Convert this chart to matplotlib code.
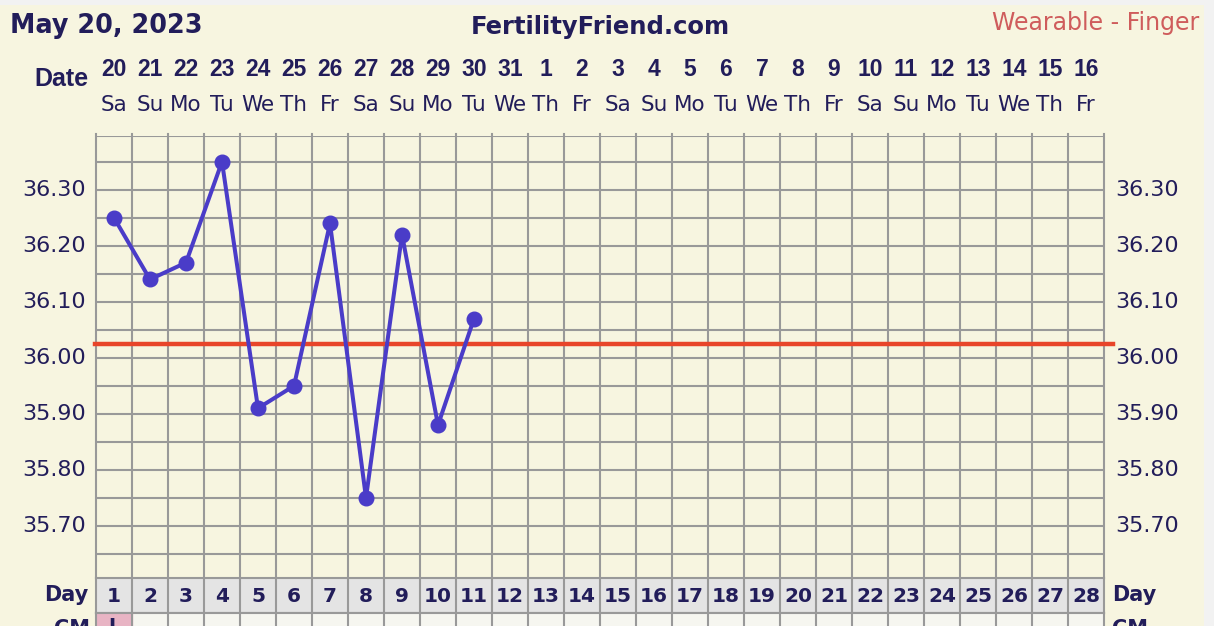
import matplotlib
matplotlib.use("Agg")
from matplotlib import pyplot as plt
from matplotlib.patches import Rectangle
import numpy as np

# chart data
days = np.arange(1, 29)
dates = [20, 21, 22, 23, 24, 25, 26, 27, 28, 29, 30, 31, 1, 2, 3, 4, 5, 6, 7, 8, 9,
         10, 11, 12, 13, 14, 15, 16]
weekdays = ["Sa", "Su", "Mo", "Tu", "We", "Th", "Fr"] * 4
temp_days = [1, 2, 3, 4, 5, 6, 7, 8, 9, 10, 11]
temps = [36.25, 36.14, 36.17, 36.35, 35.91, 35.95, 36.24, 35.75, 36.22, 35.88, 36.07]
coverline = 36.025
ytick_vals = [36.30, 36.20, 36.10, 36.00, 35.90, 35.80, 35.70]
cm_pink_days = [1]

W, H = 1214, 626
navy = "#221d5a"
cream = "#f7f5e0"
gridc = "#999999"
purple = "#4a3cc8"
red = "#e8452a"
narrow = ["Liberation Sans", "DejaVu Sans"]


def fx(x):
    return x / W


def fy(y):
    return 1 - y / H


fig = plt.figure(figsize=(W / 100, H / 100), dpi=100)
fig.patch.set_facecolor("#f2f2f2")
fig.patches.append(Rectangle((0, 0), fx(1204), fy(5), transform=fig.transFigure,
                             facecolor=cream, edgecolor="none", zorder=-10))

# main grid
left, right = 96, 1104
top, bottom = 136, 578
ax = fig.add_axes([fx(left), fy(bottom), fx(right - left), (bottom - top) / H])
ax.set_facecolor(cream)
ax.set_xlim(0.5, 28.5)
ax.set_ylim(35.607, 36.396)
for s in ax.spines.values():
    s.set_visible(False)
ax.set_xticks([])
ax.set_yticks([])

for yv in np.arange(35.65, 36.36, 0.05):
    ax.axhline(yv, color=gridc, lw=1.5, zorder=1)
ax.axhline(36.396, color=gridc, lw=1.5, zorder=1)
for xv in np.arange(0.5, 29, 1):
    ax.axvline(xv, color=gridc, lw=1.5, zorder=1, ymax=1.005, clip_on=False)

ax.plot([0.47, 28.75], [coverline, coverline], color=red, lw=3.2, zorder=3, clip_on=False)
ax.plot(temp_days, temps, color=purple, lw=2.9, marker="o", ms=10.5, zorder=4,
        solid_capstyle="round")

# y labels both sides
for yv in ytick_vals:
    ax.text(-10 / 1008, yv, "%.2f" % yv, ha="right", va="center", fontsize=16, color=navy,
            transform=ax.get_yaxis_transform())
    ax.text(1 + 11 / 1008, yv, "%.2f" % yv, ha="left", va="center", fontsize=16, color=navy,
            transform=ax.get_yaxis_transform())

# Day row
ax_day = fig.add_axes([fx(left), fy(613), fx(right - left), 35 / H])
ax_day.set_facecolor("#e4e4e4")
ax_day.set_xlim(0.5, 28.5)
ax_day.set_ylim(0, 1)
ax_day.set_xticks([])
ax_day.set_yticks([])
for s in ax_day.spines.values():
    s.set_color(gridc)
    s.set_linewidth(1.5)
for xv in np.arange(1.5, 28.5, 1):
    ax_day.axvline(xv, color=gridc, lw=1.5)
for d in days:
    ax_day.text(d, 0.48, str(d), ha="center", va="center", fontsize=14.5,
                fontweight="bold", color=navy)

# CM row (cut off at bottom)
ax_cm = fig.add_axes([fx(left), fy(640), fx(right - left), 27 / H])
ax_cm.set_facecolor("#f6f6f0")
ax_cm.set_xlim(0.5, 28.5)
ax_cm.set_ylim(0, 1)
ax_cm.set_xticks([])
ax_cm.set_yticks([])
for s in ax_cm.spines.values():
    s.set_color(gridc)
    s.set_linewidth(1.5)
for d in cm_pink_days:
    ax_cm.axvspan(d - 0.5, d + 0.5, color="#e8b4c4", zorder=0)
for xv in np.arange(1.5, 28.5, 1):
    ax_cm.axvline(xv, color=gridc, lw=1.5)
ax_cm.text(1, 0.5, "L", ha="center", va="center", fontsize=14, fontweight="bold", color=navy)

# headings
fig.text(fx(10), fy(33), "May 20, 2023", ha="left", va="baseline", fontsize=18.4,
         fontweight="bold", color=navy)
fig.text(fx(600), fy(34), "FertilityFriend.com", ha="center", va="baseline", fontsize=17.5,
         fontweight="bold", color=navy)
fig.text(fx(1199), fy(30), "Wearable - Finger", ha="right", va="baseline", fontsize=17,
         color="#cf5c5c")

fig.text(fx(88), fy(79), "Date", ha="right", va="center", fontsize=18,
         fontweight="bold", color=navy, family=narrow)
for i, d in enumerate(days):
    x = fx(left + 36 * (d - 0.5))
    fig.text(x, fy(70), str(dates[i]), ha="center", va="center", fontsize=16.5,
             fontweight="bold", color=navy, family=narrow)
    fig.text(x, fy(105), weekdays[i], ha="center", va="center", fontsize=15.5, color=navy)

fig.text(fx(88), fy(595), "Day", ha="right", va="center", fontsize=15,
         fontweight="bold", color=navy)
fig.text(fx(1112), fy(595), "Day", ha="left", va="center", fontsize=15,
         fontweight="bold", color=navy)
fig.text(fx(90), fy(619), "CM", ha="right", va="top", fontsize=15,
         fontweight="bold", color=navy)
fig.text(fx(1112), fy(619), "CM", ha="left", va="top", fontsize=15,
         fontweight="bold", color=navy)

fig.savefig("out.png", dpi=100, facecolor=fig.get_facecolor())
